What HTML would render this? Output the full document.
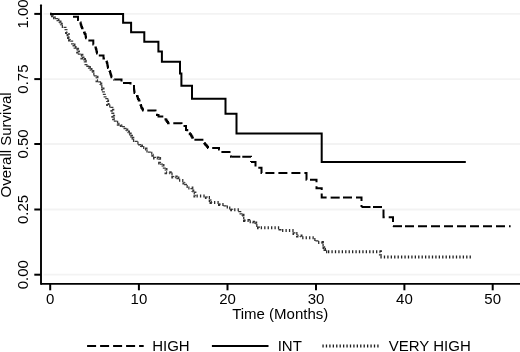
<!DOCTYPE html>
<html><head><meta charset="utf-8"><style>
html,body{margin:0;padding:0;background:#fff;}
body{width:520px;height:352px;overflow:hidden;}
svg{display:block;filter:grayscale(1) blur(0.3px);font-family:"Liberation Sans",sans-serif;}
</style></head><body>
<svg width="520" height="352" viewBox="0 0 520 352">
<rect width="520" height="352" fill="#fff"/>
<line x1="43.5" y1="13.9" x2="520" y2="13.9" stroke="#f3f3f3" stroke-width="1.8"/>
<line x1="43.5" y1="79.1" x2="520" y2="79.1" stroke="#f3f3f3" stroke-width="1.8"/>
<line x1="43.5" y1="144.0" x2="520" y2="144.0" stroke="#f3f3f3" stroke-width="1.8"/>
<line x1="43.5" y1="209.5" x2="520" y2="209.5" stroke="#f3f3f3" stroke-width="1.8"/>
<line x1="43.5" y1="274.7" x2="520" y2="274.7" stroke="#f3f3f3" stroke-width="1.8"/>
<path d="M50.20,14.00 L52.50,14.00 L52.50,15.80 L54.50,15.80 L54.50,17.70 L56.50,17.70 L56.50,20.00 L58.00,20.00 L58.00,22.00 L60.00,22.00 L60.00,24.20 L61.30,24.20 L61.30,26.50 L65.00,26.50 L65.00,28.00 L66.00,28.00 L66.00,30.50 L66.50,30.50 L66.50,32.60 L68.00,32.60 L68.00,34.70 L68.50,34.70 L68.50,37.50 L69.50,37.50 L69.50,40.00 L71.70,40.00 L71.70,42.50 L72.50,42.50 L72.50,45.10 L74.00,45.10 L74.00,47.50 L75.10,47.50 L75.10,49.30 L77.60,49.30 L77.60,51.90 L78.50,51.90 L78.50,53.50 L79.30,53.50 L79.30,55.30 L81.90,55.30 L81.90,57.90 L83.00,57.90 L83.00,59.50 L84.50,59.50 L84.50,61.30 L85.25,61.30 L85.25,63.35 L86.00,63.35 L86.00,65.40 L87.80,65.40 L87.80,67.50 L89.40,67.50 L89.40,69.60 L91.00,69.60 L91.00,71.50 L92.80,71.50 L92.80,73.90 L95.30,73.90 L95.30,77.30 L97.00,77.30 L97.00,80.70 L99.60,80.70 L99.60,84.10 L100.80,84.10 L100.80,86.50 L102.50,86.50 L102.50,89.10 L103.00,89.10 L103.00,91.00 L103.40,91.00 L103.40,93.30 L104.30,93.30 L104.30,95.50 L105.10,95.50 L105.10,97.60 L106.80,97.60 L106.80,101.00 L107.60,101.00 L107.60,104.40 L108.10,104.40 L108.10,106.00 L111.90,106.00 L111.90,106.40 L111.90,110.20 L112.80,110.20 L112.80,112.80 L112.80,116.20 L113.60,116.20 L113.60,118.80 L115.30,118.80 L115.30,122.20 L118.30,122.20 L118.30,124.30 L121.30,124.30 L121.30,125.50 L123.40,125.50 L123.40,127.70 L125.00,127.70 L125.00,130.00 L126.80,130.00 L126.80,131.90 L128.50,131.90 L128.50,134.00 L130.20,134.00 L130.20,136.20 L131.50,136.20 L131.50,138.35 L132.80,138.35 L132.80,140.50 L136.20,140.50 L136.20,143.00 L139.60,143.00 L139.60,146.00 L141.50,146.00 L141.50,147.50 L144.70,147.50 L144.70,149.00 L146.00,149.00 L146.00,151.10 L149.40,151.10 L149.40,153.20 L152.80,153.20 L152.80,155.30 L154.50,155.30 L154.50,157.90 L157.90,157.90 L157.90,158.50 L159.60,158.50 L159.60,159.60 L159.60,163.00 L161.50,163.00 L161.50,165.50 L163.00,165.50 L163.00,167.30 L164.30,167.30 L164.30,169.40 L166.00,169.40 L166.00,172.80 L170.20,172.80 L170.20,174.10 L172.80,174.10 L172.80,177.00 L176.20,177.00 L176.20,177.90 L177.90,177.90 L177.90,180.20 L181.30,180.20 L181.30,180.50 L183.90,180.50 L183.90,183.00 L185.60,183.00 L185.60,186.40 L188.10,186.40 L188.10,188.10 L191.90,188.10 L191.90,190.90 L192.80,190.90 L192.80,193.00 L194.90,193.00 L194.90,196.00 L196.50,196.00" fill="none" stroke="#383838" stroke-width="3" stroke-dasharray="1.3 2.13"/>
<path d="M196.50,196.00 L206.40,196.00 L206.40,197.50 L210.20,197.50 L210.20,200.50 L211.00,200.50 L211.00,202.50 L219.50,202.50 L219.50,204.50 L225.00,204.50 L225.00,207.00 L228.30,207.00 L228.30,208.00 L231.70,208.00 L231.70,209.80 L238.90,209.80 L238.90,210.50 L239.80,210.50 L239.80,212.50 L241.00,212.50 L241.00,215.30 L243.00,215.30 L243.00,218.00 L244.50,218.00 L244.50,220.50 L248.70,220.50 L248.70,221.80 L251.30,221.80 L251.30,222.20 L253.40,222.20 L253.40,223.00 L255.70,223.00 L255.70,225.50 L258.50,225.50 L258.50,227.80 L280.00,227.80 L280.00,230.50 L294.00,230.50 L294.00,233.50 L297.50,233.50 L297.50,236.00 L301.00,236.00 L301.00,237.80 L314.00,237.80 L314.00,239.50 L317.00,239.50 L317.00,242.50 L322.40,242.50 L322.40,245.00 L324.00,245.00 L324.00,247.50 L325.00,247.50 L325.00,249.60 L326.00,249.60 L326.00,251.70 L328.00,251.70" fill="none" stroke="#2c2c2c" stroke-width="3" stroke-dasharray="1.3 2.13"/>
<path d="M328.00,251.70 L380.40,251.70 L380.40,257.00" fill="none" stroke="#222" stroke-width="3" stroke-dasharray="1.3 2.13"/>
<path d="M380.40,257.00 L380.40,257.00 L471.60,257.00" fill="none" stroke="#222" stroke-width="3" stroke-dasharray="1.3 2.13"/>
<path d="M50.20,14.00 L73.00,14.00 L73.00,16.80" fill="none" stroke="#000" stroke-width="2" stroke-dasharray="9 4"/>
<path d="M73.00,16.80 L73.00,16.80 L78.00,16.80 L78.00,20.00 L78.83,20.00 L78.83,21.17 L79.67,21.17 L79.67,22.33 L80.50,22.33 L80.50,23.50 L80.83,23.50 L80.83,24.67 L81.17,24.67 L81.17,25.83 L81.50,25.83 L81.50,27.00 L82.00,27.00 L82.00,28.25 L82.50,28.25 L82.50,29.50 L83.25,29.50 L83.25,31.00 L84.00,31.00 L84.00,32.50 L84.75,32.50 L84.75,34.00 L85.50,34.00 L85.50,35.50 L85.75,35.50 L85.75,36.90 L86.00,36.90 L86.00,38.30 L87.00,38.30 L87.00,39.40 L88.00,39.40 L88.00,40.50 L88.50,40.50" fill="none" stroke="#000" stroke-width="2" stroke-dasharray="9 4"/>
<path d="M88.50,40.50 L93.30,40.50 L93.30,44.40 L94.03,44.40 L94.03,45.43 L94.77,45.43 L94.77,46.47 L95.50,46.47 L95.50,47.50 L95.90,47.50 L95.90,49.00 L96.30,49.00 L96.30,50.50 L96.65,50.50 L96.65,52.00 L97.00,52.00 L97.00,53.50 L97.75,53.50 L97.75,54.55 L98.50,54.55 L98.50,55.60 L98.80,55.60" fill="none" stroke="#000" stroke-width="2" stroke-dasharray="9 4"/>
<path d="M98.80,55.60 L103.50,55.60 L103.50,58.50 L105.00,58.50 L105.00,60.00 L106.50,60.00 L106.50,61.50 L106.90,61.50 L106.90,63.00 L107.30,63.00 L107.30,64.50 L107.53,64.50 L107.53,65.67 L107.77,65.67 L107.77,66.83 L108.00,66.83 L108.00,68.00 L108.75,68.00 L108.75,69.50 L109.50,69.50 L109.50,71.00 L110.00,71.00 L110.00,72.50 L110.50,72.50 L110.50,74.00 L110.83,74.00 L110.83,75.10 L111.17,75.10 L111.17,76.20 L111.50,76.20 L111.50,77.30 L112.75,77.30 L112.75,78.45 L114.00,78.45 L114.00,79.60 L114.40,79.60" fill="none" stroke="#000" stroke-width="2" stroke-dasharray="9 4"/>
<path d="M114.40,79.60 L121.50,79.60 L121.50,83.00 L123.00,83.00" fill="none" stroke="#000" stroke-width="2" stroke-dasharray="9 4"/>
<path d="M123.00,83.00 L130.50,83.00 L130.50,86.00 L134.00,86.00 L134.00,89.50 L134.17,89.50 L134.17,90.67 L134.33,90.67 L134.33,91.83 L134.50,91.83 L134.50,93.00 L135.75,93.00 L135.75,94.50 L137.00,94.50 L137.00,96.00 L137.50,96.00 L137.50,97.50 L138.00,97.50 L138.00,99.00 L138.75,99.00 L138.75,100.50 L139.50,100.50 L139.50,102.00 L140.00,102.00 L140.00,103.50 L140.50,103.50 L140.50,105.00 L141.00,105.00 L141.00,106.50 L141.50,106.50 L141.50,108.00 L142.25,108.00 L142.25,109.25 L143.00,109.25 L143.00,110.50 L147.30,110.50" fill="none" stroke="#000" stroke-width="2" stroke-dasharray="9 4"/>
<path d="M147.30,110.50 L155.50,110.50 L155.50,113.50 L157.00,113.50 L157.00,115.00 L158.50,115.00 L158.50,116.50 L165.50,116.50 L165.50,119.50 L166.33,119.50 L166.33,120.73 L167.17,120.73 L167.17,121.97 L168.00,121.97 L168.00,123.20 L173.30,123.20" fill="none" stroke="#000" stroke-width="2" stroke-dasharray="9 4"/>
<path d="M173.30,123.20 L181.50,123.20 L181.50,126.00 L186.00,126.00 L186.00,130.00 L187.25,130.00 L187.25,131.50 L188.50,131.50 L188.50,133.00 L189.75,133.00 L189.75,134.25 L191.00,134.25 L191.00,135.50 L191.62,135.50 L191.62,136.57 L192.25,136.57 L192.25,137.65 L192.88,137.65 L192.88,138.73 L193.50,138.73 L193.50,139.80 L194.40,139.80" fill="none" stroke="#000" stroke-width="2" stroke-dasharray="9 4"/>
<path d="M194.40,139.80 L204.00,139.80 L204.00,143.30 L205.00,143.30 L205.00,144.40 L206.00,144.40 L206.00,145.50 L207.00,145.50 L207.00,146.75 L208.00,146.75 L208.00,148.00 L219.00,148.00 L219.00,149.50 L220.00,149.50 L220.00,150.70 L221.00,150.70 L221.00,151.90 L221.50,151.90" fill="none" stroke="#000" stroke-width="2" stroke-dasharray="9 4"/>
<path d="M221.50,151.90 L231.00,151.90 L231.00,156.70 L231.30,156.70" fill="none" stroke="#000" stroke-width="2" stroke-dasharray="9 4"/>
<path d="M231.30,156.70 L242.30,156.70" fill="none" stroke="#000" stroke-width="2" stroke-dasharray="9 4"/>
<path d="M242.30,156.70 L251.00,156.70 L251.00,162.00" fill="none" stroke="#000" stroke-width="2" stroke-dasharray="9 4"/>
<path d="M251.00,162.00 L251.00,162.00 L255.50,162.00 L255.50,167.70 L261.50,167.70 L261.50,173.10 L265.40,173.10" fill="none" stroke="#000" stroke-width="2" stroke-dasharray="9 4"/>
<path d="M265.40,173.10 L306.50,173.10 L306.50,179.80 L310.00,179.80" fill="none" stroke="#000" stroke-width="2" stroke-dasharray="9 4"/>
<path d="M310.00,179.80 L316.50,179.80 L316.50,188.30 L321.70,188.30 L321.70,193.50" fill="none" stroke="#000" stroke-width="2" stroke-dasharray="9 4"/>
<path d="M321.70,193.50 L321.70,197.60 L330.70,197.60" fill="none" stroke="#000" stroke-width="2" stroke-dasharray="9 4"/>
<path d="M330.70,197.60 L343.00,197.60" fill="none" stroke="#000" stroke-width="2" stroke-dasharray="9 4"/>
<path d="M343.00,197.60 L361.50,197.60 L361.50,207.00" fill="none" stroke="#000" stroke-width="2" stroke-dasharray="9 4"/>
<path d="M361.50,207.00 L361.50,207.00 L373.00,207.00" fill="none" stroke="#000" stroke-width="2" stroke-dasharray="9 4"/>
<path d="M373.00,207.00 L383.50,207.00 L383.50,217.30 L393.00,217.30 L393.00,226.20" fill="none" stroke="#000" stroke-width="2" stroke-dasharray="9 4"/>
<path d="M393.00,226.20 L393.00,226.20 L405.00,226.20" fill="none" stroke="#000" stroke-width="2" stroke-dasharray="9 4"/>
<path d="M405.00,226.20 L510.60,226.20" fill="none" stroke="#000" stroke-width="2" stroke-dasharray="9 4"/>
<path d="M50.2,14.0 H123.1 V22.8 H131.1 V32.3 H144.3 V41.7 H158.4 V51.4 H161.9 V61.8 H180.0 V73.4 H181.4 V85.8 H192.0 V98.8 H225.5 V113.7 H236.5 V133.5 H321.7 V162.1 H465.8" fill="none" stroke="#000" stroke-width="2"/>
<line x1="41" y1="5.2" x2="41" y2="284" stroke="#000" stroke-width="1.9" stroke-linecap="round"/>
<path d="M41,283.9 H521" stroke="#000" stroke-width="1.9"/>
<line x1="34.3" y1="13.9" x2="41" y2="13.9" stroke="#000" stroke-width="2"/>
<text transform="translate(28,13.9) rotate(-90)" text-anchor="middle" font-size="15">1.00</text>
<line x1="34.3" y1="79.1" x2="41" y2="79.1" stroke="#000" stroke-width="2"/>
<text transform="translate(28,79.1) rotate(-90)" text-anchor="middle" font-size="15">0.75</text>
<line x1="34.3" y1="144.0" x2="41" y2="144.0" stroke="#000" stroke-width="2"/>
<text transform="translate(28,144.0) rotate(-90)" text-anchor="middle" font-size="15">0.50</text>
<line x1="34.3" y1="209.5" x2="41" y2="209.5" stroke="#000" stroke-width="2"/>
<text transform="translate(28,209.5) rotate(-90)" text-anchor="middle" font-size="15">0.25</text>
<line x1="34.3" y1="274.7" x2="41" y2="274.7" stroke="#000" stroke-width="2"/>
<text transform="translate(28,274.7) rotate(-90)" text-anchor="middle" font-size="15">0.00</text>
<line x1="50.2" y1="284" x2="50.2" y2="290.3" stroke="#000" stroke-width="2"/>
<text x="50.2" y="303.5" text-anchor="middle" font-size="15">0</text>
<line x1="138.9" y1="284" x2="138.9" y2="290.3" stroke="#000" stroke-width="2"/>
<text x="138.9" y="303.5" text-anchor="middle" font-size="15">10</text>
<line x1="227.5" y1="284" x2="227.5" y2="290.3" stroke="#000" stroke-width="2"/>
<text x="227.5" y="303.5" text-anchor="middle" font-size="15">20</text>
<line x1="316.0" y1="284" x2="316.0" y2="290.3" stroke="#000" stroke-width="2"/>
<text x="316.0" y="303.5" text-anchor="middle" font-size="15">30</text>
<line x1="404.4" y1="284" x2="404.4" y2="290.3" stroke="#000" stroke-width="2"/>
<text x="404.4" y="303.5" text-anchor="middle" font-size="15">40</text>
<line x1="492.7" y1="284" x2="492.7" y2="290.3" stroke="#000" stroke-width="2"/>
<text x="492.7" y="303.5" text-anchor="middle" font-size="15">50</text>
<text x="280.2" y="318.9" text-anchor="middle" font-size="15">Time (Months)</text>
<text transform="translate(10.9,144.9) rotate(-90)" text-anchor="middle" font-size="15">Overall Survival</text>
<line x1="87.1" y1="346.1" x2="143.7" y2="346.1" stroke="#000" stroke-width="2" stroke-dasharray="9 4"/>
<text x="152.2" y="350.8" font-size="15">HIGH</text>
<line x1="211.9" y1="346.1" x2="268.5" y2="346.1" stroke="#000" stroke-width="2"/>
<text x="277.7" y="350.8" font-size="15">INT</text>
<line x1="322.4" y1="346.1" x2="378.9" y2="346.1" stroke="#1a1a1a" stroke-width="3" stroke-dasharray="1.3 2.13"/>
<text x="388.8" y="350.8" font-size="15">VERY HIGH</text>
</svg>
</body></html>
